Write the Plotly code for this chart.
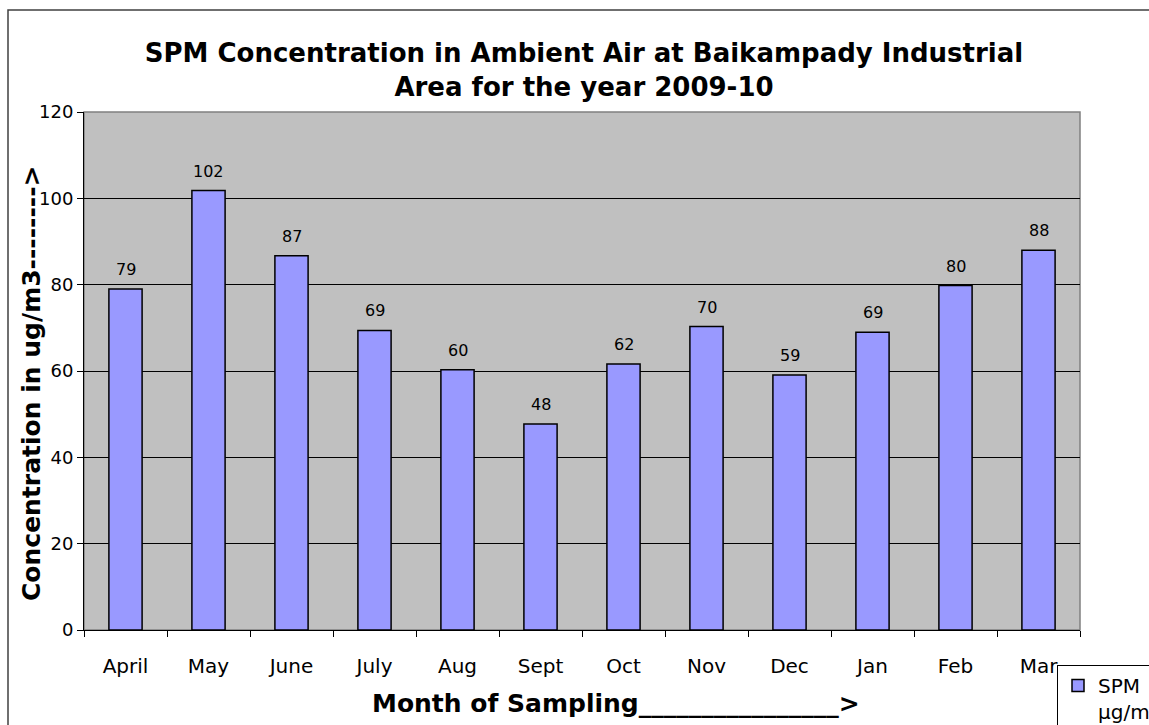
import plotly.graph_objects as go

months = ["April", "May", "June", "July", "Aug", "Sept", "Oct", "Nov", "Dec", "Jan", "Feb", "Mar"]
spm = [79.0, 101.8, 86.7, 69.4, 60.3, 47.7, 61.6, 70.3, 59.1, 69.0, 79.8, 88.0]
series_name = "SPM<br>µg/m3"
y_ticks = [0, 20, 40, 60, 80, 100, 120]

W, H = 1149, 725
L, R, T, B = 84, 69, 112, 95
pw, ph = W - L - R, H - T - B

font = "DejaVu Sans"

fig = go.Figure()
fig.add_trace(go.Bar(
    x=months, y=spm, name=series_name,
    marker=dict(color="#9999FF", line=dict(color="#000000", width=1.5)),
    cliponaxis=False,
))

# data labels above each bar
for m, v in zip(months, spm):
    fig.add_annotation(x=m, y=v, xref="x", yref="y", text=f"{v:.0f}",
                       showarrow=False, yanchor="bottom", yshift=8,
                       font=dict(family=font, size=16, color="#000000"))

fig.update_layout(
    width=W, height=H,
    margin=dict(l=L, r=R, t=T, b=B, autoexpand=False),
    paper_bgcolor="#FFFFFF", plot_bgcolor="#C0C0C0",
    bargap=0.6,
    showlegend=True,
    font=dict(family=font, color="#000000"),
    title=dict(
        text="<b>SPM Concentration in Ambient Air at Baikampady Industrial<br>Area for the year 2009-10</b>",
        font=dict(family=font, size=26, color="#000000"),
        x=584 / W, xanchor="center", xref="container",
        y=1 - 62 / H, yanchor="top", yref="container",
    ),
    legend=dict(
        x=1057 / W, xref="container", xanchor="left",
        y=1 - 665 / H, yref="container", yanchor="top",
        bgcolor="#FFFFFF", bordercolor="#000000", borderwidth=1,
        font=dict(family=font, size=20, color="#000000"),
        itemwidth=30, valign="top",
    ),
    xaxis=dict(
        tickfont=dict(family=font, size=20),
        ticks="outside", ticklen=6, tickcolor="#000000", tickson="boundaries",
        ticklabelstandoff=18,
        showline=True, linecolor="#000000", linewidth=1, mirror=False,
        showgrid=False,
    ),
    yaxis=dict(
        range=[0, 120], tickvals=y_ticks,
        tickfont=dict(family=font, size=18),
        ticks="outside", ticklen=6, tickcolor="#000000",
        showline=True, linecolor="#000000", linewidth=1,
        showgrid=True, gridcolor="#000000", gridwidth=1,
        zeroline=False,
    ),
)

# axis titles
fig.add_annotation(xref="paper", yref="paper", x=(616 - L) / pw, y=-(703 - (H - B)) / ph,
                   text="<b>Month of Sampling________________></b>", showarrow=False,
                   xanchor="center", yanchor="middle",
                   font=dict(family=font, size=25, color="#000000"))
fig.add_annotation(xref="paper", yref="paper", x=(31 - L) / pw, y=((H - B) - 383) / ph,
                   text="<b>Concentration in ug/m3--------></b>", showarrow=False,
                   textangle=-90, xanchor="center", yanchor="middle",
                   font=dict(family=font, size=25, color="#000000"))

# plot-area border (grey)
fig.add_shape(type="rect", xref="paper", yref="paper", x0=0, y0=0, x1=1, y1=1,
              line=dict(color="#808080", width=1.5), layer="below")

# outer chart frame (extends past window on right and bottom)
fig.add_shape(type="rect", xref="paper", yref="paper",
              x0=(8 - L) / pw, y0=-(B + 40) / ph, x1=1 + (R + 40) / pw, y1=1 + (T - 10) / ph,
              line=dict(color="#404040", width=1.5), fillcolor="rgba(0,0,0,0)")

fig.write_html("out.html")
